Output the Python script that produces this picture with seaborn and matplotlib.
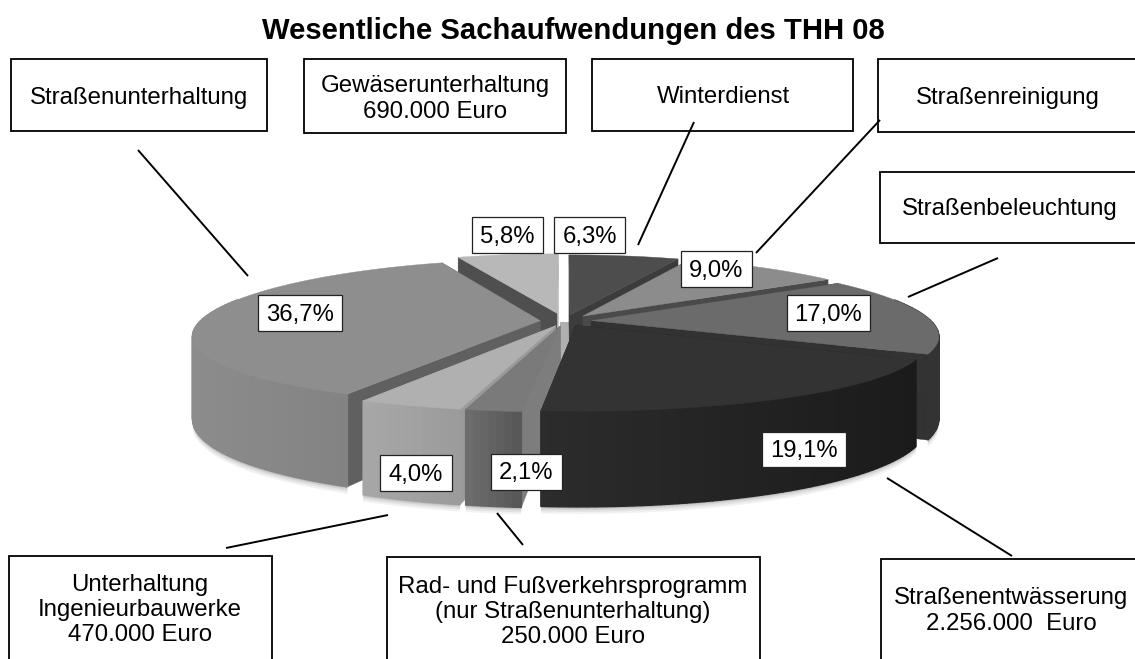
import numpy as np
import matplotlib
matplotlib.use("Agg")
import matplotlib.pyplot as plt
from matplotlib.patches import Rectangle
import seaborn as sns

title = "Wesentliche Sachaufwendungen des THH 08"
names = ["Winterdienst", "Straßenreinigung", "Straßenbeleuchtung", "Straßenentwässerung\n2.256.000  Euro",
         "Rad- und Fußverkehrsprogramm\n(nur Straßenunterhaltung)\n250.000 Euro",
         "Unterhaltung\nIngenieurbauwerke\n470.000 Euro", "Straßenunterhaltung",
         "Gewäserunterhaltung\n690.000 Euro"]
shares = [6.3, 9.0, 17.0, 19.1, 2.1, 4.0, 36.7, 5.8]
explode = [0.09, 0.09, 0.08, 0.07, 0.07, 0.07, 0.07, 0.11]
top_gray = ["#4d4d4d", "#8c8c8c", "#6b6b6b", "#333333", "#7a7a7a", "#b0b0b0", "#8e8e8e", "#b8b8b8"]
side_a = ["#3a3a3a", "#707070", "#363636", "#2c2c2c", "#707070", "#a8a8a8", "#8c8c8c", "#999999"]
side_b = ["#3a3a3a", "#707070", "#333333", "#1b1b1b", "#585858", "#9c9c9c", "#7e7e7e", "#999999"]
wall_start = ["#3c3c3c", "#4a4a4a", "#323232", "#262626", "#7d7d7d", "#9a9a9a", "#606060", "#4f4f4f"]
wall_end = ["#3c3c3c", "#4a4a4a", "#323232", "#262626", "#7d7d7d", "#9a9a9a", "#606060", "#b0b0b0"]
draw_order = [7, 0, 1, 6, 2, 5, 4, 3]

name_boxes = [(592, 59, 853, 131), (878, 59, 1140, 132), (880, 172, 1140, 243), (881, 559, 1140, 665),
              (387, 557, 760, 665), (9, 556, 272, 665), (11, 59, 267, 131), (304, 59, 566, 133)]
name_centers = [(723, 97), (1008, 98), (1010, 209), (1011, 611), (573, 612), (140, 610), (139, 98), (435, 99)]
pct_boxes = [(554, 217, 625, 253), (681, 251, 752, 287), (787, 295, 870, 331), (762, 432, 846, 467),
             (491, 454, 562, 490), (380, 455, 452, 491), (258, 295, 342, 331), (472, 217, 543, 253)]
leaders = [((694, 122), (638, 245)), ((880, 120), (756, 253)), ((998, 258), (908, 297)), ((887, 478), (1012, 556)),
           ((523, 545), (497, 513)), ((388, 515), (226, 548)), ((138, 150), (248, 276))]

sns.set_theme(style="white")
plt.rcParams["font.family"] = ["Liberation Sans", "DejaVu Sans"]

CX, CY, A, B, KX, KY, D = 564.0, 321.0, 340.0, 71.0, 0.20, 0.155, 80.0


def project(X, Y, z=0.0):
    wy = 1 + KY * Y
    return CX + A * X / (1 + KX * Y), CY - B * Y / wy + z * D / wy


def mix(c1, c2, t):
    a, b = np.array(matplotlib.colors.to_rgb(c1)), np.array(matplotlib.colors.to_rgb(c2))
    return tuple(a + (b - a) * t)


fig = plt.figure(figsize=(11.35, 6.59), dpi=100)
ax = fig.add_axes([0, 0, 1, 1])
ax.set_xlim(0, 1135)
ax.set_ylim(659, 0)
ax.axis("off")

edges = np.concatenate([[0], np.cumsum(shares)]) / np.sum(shares) * 2 * np.pi
geo = []
for i in range(len(shares)):
    t = np.linspace(edges[i], edges[i + 1], max(int(shares[i] * 3), 8))
    mid = (edges[i] + edges[i + 1]) / 2
    ox, oy = explode[i] * np.sin(mid), explode[i] * np.cos(mid)
    geo.append((t, ox, oy))

# soft shadow under the body
for grow, alpha in [(7, 0.05), (5, 0.06), (3, 0.08), (1.5, 0.1)]:
    for i in draw_order:
        t, ox, oy = geo[i]
        if np.cos((edges[i] + edges[i + 1]) / 2) > 0.35:
            continue
        X, Y = ox + np.sin(t), oy + np.cos(t)
        px, py = project(X, Y, 1.0)
        ax.fill(np.r_[px, px[::-1]], np.r_[py + grow, py[::-1] - 20], color="black", alpha=alpha, lw=0)

# light inner surface seen through the gap at the centre
ax.add_patch(Rectangle((560, 322), 10, 42, fc="#b0b0b0", ec="none"))

for i in draw_order:
    t, ox, oy = geo[i]
    X, Y = ox + np.sin(t), oy + np.cos(t)
    # cut faces
    for ex, ey, wc in [(X[0], Y[0], wall_start[i]), (X[-1], Y[-1], wall_end[i])]:
        x1, y1 = project(ox, oy)
        x2, y2 = project(ex, ey)
        x3, y3 = project(ex, ey, 1.0)
        x4, y4 = project(ox, oy, 1.0)
        ax.fill([x1, x2, x3, x4], [y1, y2, y3, y4], color=wc, lw=0.3, ec=wc)
    # outer surface, faded from side to side
    order = np.argsort(Y[:-1])[::-1]
    xs = project(X, Y)[0]
    lo, hi = xs.min(), xs.max()
    for j in order:
        x1, y1 = project(X[j], Y[j])
        x2, y2 = project(X[j + 1], Y[j + 1])
        x3, y3 = project(X[j + 1], Y[j + 1], 1.0)
        x4, y4 = project(X[j], Y[j], 1.0)
        if np.cos((t[j] + t[j + 1]) / 2) > 0.15 and abs(np.sin((t[j] + t[j + 1]) / 2)) < 0.95:
            continue
        c = mix(side_a[i], side_b[i], (x1 - lo) / max(hi - lo, 1))
        ax.fill([x1, x2, x3, x4], [y1, y2, y3, y4], color=c, lw=1.0, ec=c)
    # top face
    px, py = project(np.r_[ox, X], np.r_[oy, Y])
    ax.fill(px, py, color=top_gray[i], lw=0.3, ec=top_gray[i])

ax.text(573, 31, title, ha="center", va="center", fontsize=21.1, fontweight="bold", color="black")

for a, b in leaders:
    ax.plot([a[0], b[0]], [a[1], b[1]], color="black", lw=1.4, solid_capstyle="butt")

for name, (x0, y0, x1, y1), (cx, cy) in zip(names, name_boxes, name_centers):
    ax.add_patch(Rectangle((x0, y0), x1 - x0, y1 - y0, fc="white", ec="black", lw=1.3, clip_on=True))
    ax.text(cx, cy, name, ha="center", va="center", fontsize=17.3, color="black", linespacing=1.18)

for val, (x0, y0, x1, y1) in zip(shares, pct_boxes):
    ax.add_patch(Rectangle((x0, y0), x1 - x0, y1 - y0, fc="white", ec="#222222", lw=0.9))
    ax.text((x0 + x1) / 2, (y0 + y1) / 2 + 1.5, f"{val:.1f}%".replace(".", ","), ha="center", va="center",
            fontsize=17.2, color="black")

fig.savefig("out.png", dpi=100)
